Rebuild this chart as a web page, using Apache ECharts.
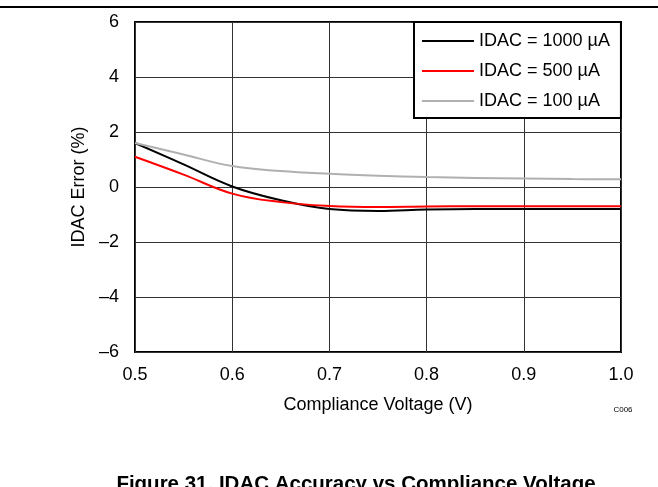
<!DOCTYPE html>
<html>
<head>
<meta charset="utf-8">
<script src="https://cdn.jsdelivr.net/npm/echarts@6/dist/echarts.min.js"></script>
<style>
html,body{margin:0;padding:0;background:#fff;}
#chart{width:658px;height:487px;}
</style>
</head>
<body>
<div id="chart"></div>
<script>
var voltage = [0.5, 0.55, 0.6, 0.65, 0.7, 0.75, 0.8, 0.85, 0.9, 0.95, 1.0];
var idac1000 = [1.6, 0.82, 0.02, -0.48, -0.8, -0.87, -0.82, -0.8, -0.8, -0.8, -0.8];
var idac500 = [1.1, 0.45, -0.24, -0.55, -0.69, -0.73, -0.71, -0.7, -0.7, -0.7, -0.7];
var idac100 = [1.6, 1.18, 0.76, 0.58, 0.48, 0.41, 0.36, 0.33, 0.31, 0.29, 0.28];
var seriesNames = ['IDAC = 1000 µA', 'IDAC = 500 µA', 'IDAC = 100 µA'];
var seriesColors = ['#000000', '#ff0000', '#b0b0b0'];
var seriesValues = [idac1000, idac500, idac100];

function pairs(xs, ys){ return xs.map(function(x,i){ return [x, ys[i]]; }); }

var font = 'Liberation Sans, Arial, sans-serif';
var chart = echarts.init(document.getElementById('chart'));
chart.setOption({
  animation: false,
  backgroundColor: '#fff',
  grid: { left: 135, right: 37, top: 22, bottom: 135, show: true, borderColor: '#000', borderWidth: 2, backgroundColor: 'transparent' },
  xAxis: {
    type: 'value', min: 0.5, max: 1.0, interval: 0.1,
    name: 'Compliance Voltage (V)', nameLocation: 'middle', nameGap: 44,
    nameTextStyle: { fontFamily: font, fontSize: 18, color: '#000' },
    axisLine: { show: false }, axisTick: { show: false },
    axisLabel: { margin: 14, fontFamily: font, fontSize: 18, color: '#000',
      formatter: function(v){ return v.toFixed(1); } },
    splitLine: { show: true, lineStyle: { color: '#333', width: 1 } }
  },
  yAxis: {
    type: 'value', min: -6, max: 6, interval: 2,
    name: 'IDAC Error (%)', nameLocation: 'middle', nameGap: 45,
    nameTextStyle: { fontFamily: font, fontSize: 18, color: '#000' },
    axisLine: { show: false }, axisTick: { show: false },
    axisLabel: { margin: 16, fontFamily: font, fontSize: 18, color: '#000',
      formatter: function(v){ return v < 0 ? '\u2013' + Math.abs(v) : String(v); } },
    splitLine: { show: true, lineStyle: { color: '#333', width: 1 } }
  },
  legend: {
    left: 414, top: 22, orient: 'vertical', icon: 'rect',
    backgroundColor: '#fff', borderColor: '#000', borderWidth: 2,
    padding: [9, 11, 7, 8], itemGap: 10, itemWidth: 52, itemHeight: 2,
    textStyle: { fontFamily: font, fontSize: 18, lineHeight: 20, color: '#000' },
    data: seriesNames
  },
  series: seriesNames.map(function(n, i){
    return { name: n, type: 'line', smooth: 0.4, symbol: 'none', showSymbol: false,
      data: pairs(voltage, seriesValues[i]),
      lineStyle: { color: seriesColors[i], width: 2 }, itemStyle: { color: seriesColors[i] } };
  }),
  graphic: [
    { type: 'line', shape: { x1: 0, y1: 7, x2: 658, y2: 7 }, style: { stroke: '#000', lineWidth: 2 } },
    { type: 'text', x: 623, y: 410, style: { text: 'C006', font: '8px ' + font, fill: '#000', textAlign: 'center', textVerticalAlign: 'middle' } },
    { type: 'text', x: 356, y: 474, style: { text: 'Figure 31. IDAC Accuracy vs Compliance Voltage', font: 'bold 20.5px ' + font, fill: '#000', textAlign: 'center', textVerticalAlign: 'top' } }
  ]
});
</script>
</body>
</html>
